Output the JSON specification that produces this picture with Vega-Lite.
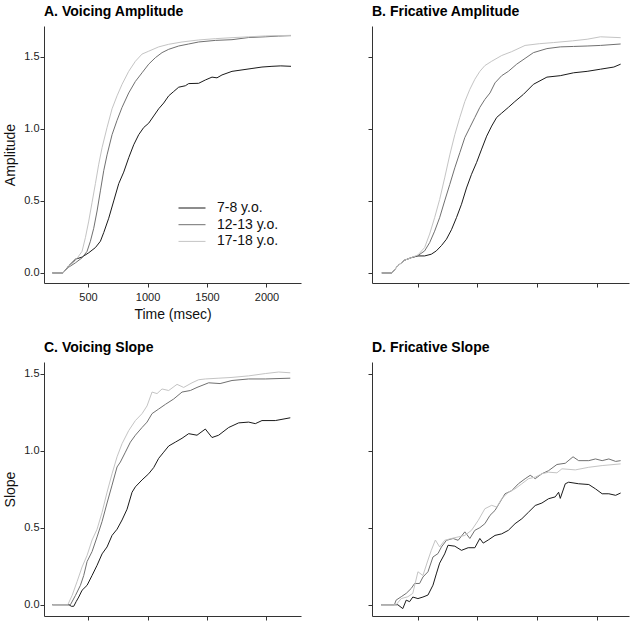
{
"$schema": "https://vega.github.io/schema/vega-lite/v6.json",
"padding": {"left": 3, "top": 5, "right": 5, "bottom": 5},
"config": {
  "font": "Liberation Sans",
  "view": {"stroke": null},
  "axis": {"grid": false, "domainColor": "#333", "tickColor": "#333", "labelColor": "#222", "labelFontSize": 11, "titleFontSize": 14, "titleFontWeight": "normal", "titleColor": "#111", "tickSize": 4, "domainWidth": 1, "tickWidth": 1},
  "title": {"fontSize": 14, "fontWeight": "bold", "anchor": "start", "frame": "group", "offset": 7, "color": "#000"},
  "line": {"strokeWidth": 1}
},
"data": {"values": [
{"p":"A","g":"7-8 y.o.","t":200,"v":0},{"p":"A","g":"7-8 y.o.","t":290,"v":0},{"p":"A","g":"7-8 y.o.","t":338,"v":0.049},{"p":"A","g":"7-8 y.o.","t":394,"v":0.095},{"p":"A","g":"7-8 y.o.","t":450,"v":0.11},{"p":"A","g":"7-8 y.o.","t":506,"v":0.14},{"p":"A","g":"7-8 y.o.","t":562,"v":0.176},{"p":"A","g":"7-8 y.o.","t":604,"v":0.22},{"p":"A","g":"7-8 y.o.","t":632,"v":0.28},{"p":"A","g":"7-8 y.o.","t":674,"v":0.38},{"p":"A","g":"7-8 y.o.","t":716,"v":0.5},{"p":"A","g":"7-8 y.o.","t":758,"v":0.62},{"p":"A","g":"7-8 y.o.","t":800,"v":0.7},{"p":"A","g":"7-8 y.o.","t":842,"v":0.8},{"p":"A","g":"7-8 y.o.","t":884,"v":0.89},{"p":"A","g":"7-8 y.o.","t":926,"v":0.96},{"p":"A","g":"7-8 y.o.","t":968,"v":1.01},{"p":"A","g":"7-8 y.o.","t":1010,"v":1.04},{"p":"A","g":"7-8 y.o.","t":1052,"v":1.09},{"p":"A","g":"7-8 y.o.","t":1094,"v":1.14},{"p":"A","g":"7-8 y.o.","t":1136,"v":1.18},{"p":"A","g":"7-8 y.o.","t":1178,"v":1.23},{"p":"A","g":"7-8 y.o.","t":1220,"v":1.26},{"p":"A","g":"7-8 y.o.","t":1262,"v":1.29},{"p":"A","g":"7-8 y.o.","t":1318,"v":1.3},{"p":"A","g":"7-8 y.o.","t":1346,"v":1.315},{"p":"A","g":"7-8 y.o.","t":1430,"v":1.317},{"p":"A","g":"7-8 y.o.","t":1486,"v":1.34},{"p":"A","g":"7-8 y.o.","t":1542,"v":1.36},{"p":"A","g":"7-8 y.o.","t":1584,"v":1.355},{"p":"A","g":"7-8 y.o.","t":1626,"v":1.375},{"p":"A","g":"7-8 y.o.","t":1710,"v":1.4},{"p":"A","g":"7-8 y.o.","t":1794,"v":1.41},{"p":"A","g":"7-8 y.o.","t":1878,"v":1.42},{"p":"A","g":"7-8 y.o.","t":1962,"v":1.43},{"p":"A","g":"7-8 y.o.","t":2046,"v":1.435},{"p":"A","g":"7-8 y.o.","t":2120,"v":1.438},{"p":"A","g":"7-8 y.o.","t":2206,"v":1.435},
{"p":"A","g":"12-13 y.o.","t":200,"v":0},{"p":"A","g":"12-13 y.o.","t":290,"v":0},{"p":"A","g":"12-13 y.o.","t":338,"v":0.04},{"p":"A","g":"12-13 y.o.","t":394,"v":0.07},{"p":"A","g":"12-13 y.o.","t":450,"v":0.105},{"p":"A","g":"12-13 y.o.","t":492,"v":0.15},{"p":"A","g":"12-13 y.o.","t":520,"v":0.22},{"p":"A","g":"12-13 y.o.","t":548,"v":0.31},{"p":"A","g":"12-13 y.o.","t":576,"v":0.43},{"p":"A","g":"12-13 y.o.","t":604,"v":0.57},{"p":"A","g":"12-13 y.o.","t":632,"v":0.71},{"p":"A","g":"12-13 y.o.","t":660,"v":0.82},{"p":"A","g":"12-13 y.o.","t":702,"v":0.96},{"p":"A","g":"12-13 y.o.","t":744,"v":1.06},{"p":"A","g":"12-13 y.o.","t":786,"v":1.15},{"p":"A","g":"12-13 y.o.","t":842,"v":1.25},{"p":"A","g":"12-13 y.o.","t":898,"v":1.33},{"p":"A","g":"12-13 y.o.","t":954,"v":1.39},{"p":"A","g":"12-13 y.o.","t":1010,"v":1.45},{"p":"A","g":"12-13 y.o.","t":1066,"v":1.495},{"p":"A","g":"12-13 y.o.","t":1122,"v":1.53},{"p":"A","g":"12-13 y.o.","t":1178,"v":1.553},{"p":"A","g":"12-13 y.o.","t":1262,"v":1.576},{"p":"A","g":"12-13 y.o.","t":1346,"v":1.59},{"p":"A","g":"12-13 y.o.","t":1430,"v":1.604},{"p":"A","g":"12-13 y.o.","t":1570,"v":1.615},{"p":"A","g":"12-13 y.o.","t":1710,"v":1.62},{"p":"A","g":"12-13 y.o.","t":1850,"v":1.635},{"p":"A","g":"12-13 y.o.","t":1990,"v":1.64},{"p":"A","g":"12-13 y.o.","t":2100,"v":1.645},{"p":"A","g":"12-13 y.o.","t":2206,"v":1.648},
{"p":"A","g":"17-18 y.o.","t":200,"v":0},{"p":"A","g":"17-18 y.o.","t":290,"v":0},{"p":"A","g":"17-18 y.o.","t":338,"v":0.045},{"p":"A","g":"17-18 y.o.","t":394,"v":0.085},{"p":"A","g":"17-18 y.o.","t":450,"v":0.15},{"p":"A","g":"17-18 y.o.","t":478,"v":0.245},{"p":"A","g":"17-18 y.o.","t":506,"v":0.36},{"p":"A","g":"17-18 y.o.","t":534,"v":0.49},{"p":"A","g":"17-18 y.o.","t":562,"v":0.62},{"p":"A","g":"17-18 y.o.","t":590,"v":0.755},{"p":"A","g":"17-18 y.o.","t":618,"v":0.87},{"p":"A","g":"17-18 y.o.","t":660,"v":1.01},{"p":"A","g":"17-18 y.o.","t":702,"v":1.14},{"p":"A","g":"17-18 y.o.","t":744,"v":1.23},{"p":"A","g":"17-18 y.o.","t":786,"v":1.31},{"p":"A","g":"17-18 y.o.","t":842,"v":1.4},{"p":"A","g":"17-18 y.o.","t":898,"v":1.47},{"p":"A","g":"17-18 y.o.","t":954,"v":1.52},{"p":"A","g":"17-18 y.o.","t":1010,"v":1.54},{"p":"A","g":"17-18 y.o.","t":1094,"v":1.57},{"p":"A","g":"17-18 y.o.","t":1178,"v":1.588},{"p":"A","g":"17-18 y.o.","t":1290,"v":1.604},{"p":"A","g":"17-18 y.o.","t":1430,"v":1.618},{"p":"A","g":"17-18 y.o.","t":1570,"v":1.627},{"p":"A","g":"17-18 y.o.","t":1710,"v":1.634},{"p":"A","g":"17-18 y.o.","t":1850,"v":1.64},{"p":"A","g":"17-18 y.o.","t":1990,"v":1.646},{"p":"A","g":"17-18 y.o.","t":2206,"v":1.65},
{"p":"B","g":"7-8 y.o.","t":200,"v":0},{"p":"B","g":"7-8 y.o.","t":285,"v":0},{"p":"B","g":"7-8 y.o.","t":334,"v":0.049},{"p":"B","g":"7-8 y.o.","t":390,"v":0.088},{"p":"B","g":"7-8 y.o.","t":447,"v":0.106},{"p":"B","g":"7-8 y.o.","t":503,"v":0.118},{"p":"B","g":"7-8 y.o.","t":559,"v":0.118},{"p":"B","g":"7-8 y.o.","t":615,"v":0.13},{"p":"B","g":"7-8 y.o.","t":657,"v":0.153},{"p":"B","g":"7-8 y.o.","t":700,"v":0.19},{"p":"B","g":"7-8 y.o.","t":742,"v":0.234},{"p":"B","g":"7-8 y.o.","t":784,"v":0.3},{"p":"B","g":"7-8 y.o.","t":826,"v":0.384},{"p":"B","g":"7-8 y.o.","t":868,"v":0.477},{"p":"B","g":"7-8 y.o.","t":910,"v":0.59},{"p":"B","g":"7-8 y.o.","t":952,"v":0.685},{"p":"B","g":"7-8 y.o.","t":994,"v":0.766},{"p":"B","g":"7-8 y.o.","t":1037,"v":0.86},{"p":"B","g":"7-8 y.o.","t":1079,"v":0.95},{"p":"B","g":"7-8 y.o.","t":1121,"v":1.02},{"p":"B","g":"7-8 y.o.","t":1163,"v":1.08},{"p":"B","g":"7-8 y.o.","t":1205,"v":1.11},{"p":"B","g":"7-8 y.o.","t":1261,"v":1.15},{"p":"B","g":"7-8 y.o.","t":1315,"v":1.19},{"p":"B","g":"7-8 y.o.","t":1387,"v":1.24},{"p":"B","g":"7-8 y.o.","t":1471,"v":1.31},{"p":"B","g":"7-8 y.o.","t":1584,"v":1.36},{"p":"B","g":"7-8 y.o.","t":1696,"v":1.37},{"p":"B","g":"7-8 y.o.","t":1808,"v":1.39},{"p":"B","g":"7-8 y.o.","t":1921,"v":1.4},{"p":"B","g":"7-8 y.o.","t":2033,"v":1.415},{"p":"B","g":"7-8 y.o.","t":2145,"v":1.43},{"p":"B","g":"7-8 y.o.","t":2202,"v":1.45},
{"p":"B","g":"12-13 y.o.","t":200,"v":0},{"p":"B","g":"12-13 y.o.","t":285,"v":0},{"p":"B","g":"12-13 y.o.","t":334,"v":0.049},{"p":"B","g":"12-13 y.o.","t":390,"v":0.088},{"p":"B","g":"12-13 y.o.","t":447,"v":0.106},{"p":"B","g":"12-13 y.o.","t":503,"v":0.12},{"p":"B","g":"12-13 y.o.","t":559,"v":0.153},{"p":"B","g":"12-13 y.o.","t":601,"v":0.21},{"p":"B","g":"12-13 y.o.","t":643,"v":0.29},{"p":"B","g":"12-13 y.o.","t":685,"v":0.384},{"p":"B","g":"12-13 y.o.","t":727,"v":0.5},{"p":"B","g":"12-13 y.o.","t":770,"v":0.615},{"p":"B","g":"12-13 y.o.","t":812,"v":0.73},{"p":"B","g":"12-13 y.o.","t":854,"v":0.835},{"p":"B","g":"12-13 y.o.","t":896,"v":0.94},{"p":"B","g":"12-13 y.o.","t":938,"v":1.01},{"p":"B","g":"12-13 y.o.","t":980,"v":1.08},{"p":"B","g":"12-13 y.o.","t":1022,"v":1.15},{"p":"B","g":"12-13 y.o.","t":1064,"v":1.205},{"p":"B","g":"12-13 y.o.","t":1107,"v":1.25},{"p":"B","g":"12-13 y.o.","t":1149,"v":1.32},{"p":"B","g":"12-13 y.o.","t":1205,"v":1.37},{"p":"B","g":"12-13 y.o.","t":1261,"v":1.4},{"p":"B","g":"12-13 y.o.","t":1331,"v":1.45},{"p":"B","g":"12-13 y.o.","t":1401,"v":1.49},{"p":"B","g":"12-13 y.o.","t":1471,"v":1.53},{"p":"B","g":"12-13 y.o.","t":1584,"v":1.558},{"p":"B","g":"12-13 y.o.","t":1696,"v":1.57},{"p":"B","g":"12-13 y.o.","t":1808,"v":1.573},{"p":"B","g":"12-13 y.o.","t":1921,"v":1.576},{"p":"B","g":"12-13 y.o.","t":2033,"v":1.58},{"p":"B","g":"12-13 y.o.","t":2202,"v":1.59},
{"p":"B","g":"17-18 y.o.","t":200,"v":0},{"p":"B","g":"17-18 y.o.","t":285,"v":0},{"p":"B","g":"17-18 y.o.","t":334,"v":0.049},{"p":"B","g":"17-18 y.o.","t":390,"v":0.088},{"p":"B","g":"17-18 y.o.","t":447,"v":0.106},{"p":"B","g":"17-18 y.o.","t":503,"v":0.125},{"p":"B","g":"17-18 y.o.","t":559,"v":0.176},{"p":"B","g":"17-18 y.o.","t":601,"v":0.27},{"p":"B","g":"17-18 y.o.","t":643,"v":0.384},{"p":"B","g":"17-18 y.o.","t":685,"v":0.51},{"p":"B","g":"17-18 y.o.","t":727,"v":0.66},{"p":"B","g":"17-18 y.o.","t":770,"v":0.82},{"p":"B","g":"17-18 y.o.","t":812,"v":0.96},{"p":"B","g":"17-18 y.o.","t":854,"v":1.08},{"p":"B","g":"17-18 y.o.","t":896,"v":1.19},{"p":"B","g":"17-18 y.o.","t":938,"v":1.275},{"p":"B","g":"17-18 y.o.","t":980,"v":1.345},{"p":"B","g":"17-18 y.o.","t":1022,"v":1.4},{"p":"B","g":"17-18 y.o.","t":1064,"v":1.44},{"p":"B","g":"17-18 y.o.","t":1121,"v":1.47},{"p":"B","g":"17-18 y.o.","t":1205,"v":1.51},{"p":"B","g":"17-18 y.o.","t":1289,"v":1.537},{"p":"B","g":"17-18 y.o.","t":1401,"v":1.58},{"p":"B","g":"17-18 y.o.","t":1520,"v":1.592},{"p":"B","g":"17-18 y.o.","t":1640,"v":1.6},{"p":"B","g":"17-18 y.o.","t":1800,"v":1.612},{"p":"B","g":"17-18 y.o.","t":1921,"v":1.623},{"p":"B","g":"17-18 y.o.","t":2033,"v":1.64},{"p":"B","g":"17-18 y.o.","t":2202,"v":1.634},
{"p":"C","g":"7-8 y.o.","t":200,"v":0},{"p":"C","g":"7-8 y.o.","t":340,"v":0},{"p":"C","g":"7-8 y.o.","t":360,"v":-0.01},{"p":"C","g":"7-8 y.o.","t":380,"v":-0.01},{"p":"C","g":"7-8 y.o.","t":400,"v":0.02},{"p":"C","g":"7-8 y.o.","t":422,"v":0.05},{"p":"C","g":"7-8 y.o.","t":450,"v":0.094},{"p":"C","g":"7-8 y.o.","t":492,"v":0.126},{"p":"C","g":"7-8 y.o.","t":534,"v":0.19},{"p":"C","g":"7-8 y.o.","t":576,"v":0.256},{"p":"C","g":"7-8 y.o.","t":618,"v":0.33},{"p":"C","g":"7-8 y.o.","t":660,"v":0.375},{"p":"C","g":"7-8 y.o.","t":702,"v":0.45},{"p":"C","g":"7-8 y.o.","t":744,"v":0.49},{"p":"C","g":"7-8 y.o.","t":786,"v":0.55},{"p":"C","g":"7-8 y.o.","t":828,"v":0.62},{"p":"C","g":"7-8 y.o.","t":870,"v":0.73},{"p":"C","g":"7-8 y.o.","t":898,"v":0.765},{"p":"C","g":"7-8 y.o.","t":954,"v":0.81},{"p":"C","g":"7-8 y.o.","t":1010,"v":0.85},{"p":"C","g":"7-8 y.o.","t":1052,"v":0.89},{"p":"C","g":"7-8 y.o.","t":1094,"v":0.95},{"p":"C","g":"7-8 y.o.","t":1136,"v":0.99},{"p":"C","g":"7-8 y.o.","t":1178,"v":1.03},{"p":"C","g":"7-8 y.o.","t":1234,"v":1.055},{"p":"C","g":"7-8 y.o.","t":1290,"v":1.08},{"p":"C","g":"7-8 y.o.","t":1346,"v":1.11},{"p":"C","g":"7-8 y.o.","t":1416,"v":1.1},{"p":"C","g":"7-8 y.o.","t":1486,"v":1.14},{"p":"C","g":"7-8 y.o.","t":1542,"v":1.085},{"p":"C","g":"7-8 y.o.","t":1598,"v":1.1},{"p":"C","g":"7-8 y.o.","t":1682,"v":1.15},{"p":"C","g":"7-8 y.o.","t":1766,"v":1.18},{"p":"C","g":"7-8 y.o.","t":1850,"v":1.185},{"p":"C","g":"7-8 y.o.","t":1906,"v":1.175},{"p":"C","g":"7-8 y.o.","t":1962,"v":1.195},{"p":"C","g":"7-8 y.o.","t":2074,"v":1.195},{"p":"C","g":"7-8 y.o.","t":2200,"v":1.213},
{"p":"C","g":"12-13 y.o.","t":200,"v":0},{"p":"C","g":"12-13 y.o.","t":340,"v":0},{"p":"C","g":"12-13 y.o.","t":352,"v":0},{"p":"C","g":"12-13 y.o.","t":394,"v":0.06},{"p":"C","g":"12-13 y.o.","t":436,"v":0.126},{"p":"C","g":"12-13 y.o.","t":464,"v":0.19},{"p":"C","g":"12-13 y.o.","t":492,"v":0.28},{"p":"C","g":"12-13 y.o.","t":534,"v":0.345},{"p":"C","g":"12-13 y.o.","t":576,"v":0.44},{"p":"C","g":"12-13 y.o.","t":618,"v":0.54},{"p":"C","g":"12-13 y.o.","t":660,"v":0.66},{"p":"C","g":"12-13 y.o.","t":702,"v":0.776},{"p":"C","g":"12-13 y.o.","t":744,"v":0.894},{"p":"C","g":"12-13 y.o.","t":772,"v":0.926},{"p":"C","g":"12-13 y.o.","t":814,"v":0.99},{"p":"C","g":"12-13 y.o.","t":856,"v":1.055},{"p":"C","g":"12-13 y.o.","t":898,"v":1.1},{"p":"C","g":"12-13 y.o.","t":954,"v":1.15},{"p":"C","g":"12-13 y.o.","t":996,"v":1.185},{"p":"C","g":"12-13 y.o.","t":1038,"v":1.24},{"p":"C","g":"12-13 y.o.","t":1094,"v":1.27},{"p":"C","g":"12-13 y.o.","t":1150,"v":1.3},{"p":"C","g":"12-13 y.o.","t":1220,"v":1.335},{"p":"C","g":"12-13 y.o.","t":1290,"v":1.38},{"p":"C","g":"12-13 y.o.","t":1360,"v":1.39},{"p":"C","g":"12-13 y.o.","t":1416,"v":1.41},{"p":"C","g":"12-13 y.o.","t":1514,"v":1.44},{"p":"C","g":"12-13 y.o.","t":1610,"v":1.435},{"p":"C","g":"12-13 y.o.","t":1710,"v":1.455},{"p":"C","g":"12-13 y.o.","t":1850,"v":1.465},{"p":"C","g":"12-13 y.o.","t":1990,"v":1.465},{"p":"C","g":"12-13 y.o.","t":2200,"v":1.47},
{"p":"C","g":"17-18 y.o.","t":200,"v":0},{"p":"C","g":"17-18 y.o.","t":330,"v":0},{"p":"C","g":"17-18 y.o.","t":366,"v":0.06},{"p":"C","g":"17-18 y.o.","t":408,"v":0.15},{"p":"C","g":"17-18 y.o.","t":450,"v":0.245},{"p":"C","g":"17-18 y.o.","t":492,"v":0.32},{"p":"C","g":"17-18 y.o.","t":534,"v":0.42},{"p":"C","g":"17-18 y.o.","t":576,"v":0.49},{"p":"C","g":"17-18 y.o.","t":618,"v":0.6},{"p":"C","g":"17-18 y.o.","t":660,"v":0.73},{"p":"C","g":"17-18 y.o.","t":702,"v":0.85},{"p":"C","g":"17-18 y.o.","t":744,"v":0.96},{"p":"C","g":"17-18 y.o.","t":786,"v":1.045},{"p":"C","g":"17-18 y.o.","t":842,"v":1.13},{"p":"C","g":"17-18 y.o.","t":898,"v":1.195},{"p":"C","g":"17-18 y.o.","t":954,"v":1.24},{"p":"C","g":"17-18 y.o.","t":996,"v":1.29},{"p":"C","g":"17-18 y.o.","t":1038,"v":1.38},{"p":"C","g":"17-18 y.o.","t":1080,"v":1.37},{"p":"C","g":"17-18 y.o.","t":1122,"v":1.4},{"p":"C","g":"17-18 y.o.","t":1178,"v":1.39},{"p":"C","g":"17-18 y.o.","t":1248,"v":1.43},{"p":"C","g":"17-18 y.o.","t":1304,"v":1.41},{"p":"C","g":"17-18 y.o.","t":1374,"v":1.44},{"p":"C","g":"17-18 y.o.","t":1430,"v":1.46},{"p":"C","g":"17-18 y.o.","t":1486,"v":1.465},{"p":"C","g":"17-18 y.o.","t":1600,"v":1.47},{"p":"C","g":"17-18 y.o.","t":1710,"v":1.475},{"p":"C","g":"17-18 y.o.","t":1850,"v":1.485},{"p":"C","g":"17-18 y.o.","t":1990,"v":1.5},{"p":"C","g":"17-18 y.o.","t":2102,"v":1.51},{"p":"C","g":"17-18 y.o.","t":2200,"v":1.505},
{"p":"D","g":"7-8 y.o.","t":194,"v":0},{"p":"D","g":"7-8 y.o.","t":306,"v":0},{"p":"D","g":"7-8 y.o.","t":334,"v":0},{"p":"D","g":"7-8 y.o.","t":376,"v":-0.025},{"p":"D","g":"7-8 y.o.","t":405,"v":0.03},{"p":"D","g":"7-8 y.o.","t":433,"v":0.02},{"p":"D","g":"7-8 y.o.","t":460,"v":0.05},{"p":"D","g":"7-8 y.o.","t":503,"v":0.04},{"p":"D","g":"7-8 y.o.","t":545,"v":0.05},{"p":"D","g":"7-8 y.o.","t":587,"v":0.063},{"p":"D","g":"7-8 y.o.","t":629,"v":0.127},{"p":"D","g":"7-8 y.o.","t":657,"v":0.2},{"p":"D","g":"7-8 y.o.","t":685,"v":0.27},{"p":"D","g":"7-8 y.o.","t":727,"v":0.33},{"p":"D","g":"7-8 y.o.","t":755,"v":0.386},{"p":"D","g":"7-8 y.o.","t":812,"v":0.38},{"p":"D","g":"7-8 y.o.","t":868,"v":0.353},{"p":"D","g":"7-8 y.o.","t":924,"v":0.37},{"p":"D","g":"7-8 y.o.","t":980,"v":0.37},{"p":"D","g":"7-8 y.o.","t":1022,"v":0.43},{"p":"D","g":"7-8 y.o.","t":1050,"v":0.4},{"p":"D","g":"7-8 y.o.","t":1092,"v":0.42},{"p":"D","g":"7-8 y.o.","t":1149,"v":0.45},{"p":"D","g":"7-8 y.o.","t":1205,"v":0.46},{"p":"D","g":"7-8 y.o.","t":1261,"v":0.483},{"p":"D","g":"7-8 y.o.","t":1317,"v":0.526},{"p":"D","g":"7-8 y.o.","t":1374,"v":0.558},{"p":"D","g":"7-8 y.o.","t":1429,"v":0.6},{"p":"D","g":"7-8 y.o.","t":1486,"v":0.644},{"p":"D","g":"7-8 y.o.","t":1542,"v":0.66},{"p":"D","g":"7-8 y.o.","t":1598,"v":0.688},{"p":"D","g":"7-8 y.o.","t":1654,"v":0.7},{"p":"D","g":"7-8 y.o.","t":1682,"v":0.73},{"p":"D","g":"7-8 y.o.","t":1696,"v":0.69},{"p":"D","g":"7-8 y.o.","t":1738,"v":0.785},{"p":"D","g":"7-8 y.o.","t":1766,"v":0.795},{"p":"D","g":"7-8 y.o.","t":1850,"v":0.785},{"p":"D","g":"7-8 y.o.","t":1935,"v":0.78},{"p":"D","g":"7-8 y.o.","t":1991,"v":0.752},{"p":"D","g":"7-8 y.o.","t":2047,"v":0.72},{"p":"D","g":"7-8 y.o.","t":2103,"v":0.72},{"p":"D","g":"7-8 y.o.","t":2160,"v":0.71},{"p":"D","g":"7-8 y.o.","t":2202,"v":0.725},
{"p":"D","g":"12-13 y.o.","t":194,"v":0},{"p":"D","g":"12-13 y.o.","t":306,"v":0},{"p":"D","g":"12-13 y.o.","t":320,"v":0.03},{"p":"D","g":"12-13 y.o.","t":363,"v":0.052},{"p":"D","g":"12-13 y.o.","t":405,"v":0.074},{"p":"D","g":"12-13 y.o.","t":447,"v":0.106},{"p":"D","g":"12-13 y.o.","t":475,"v":0.138},{"p":"D","g":"12-13 y.o.","t":517,"v":0.138},{"p":"D","g":"12-13 y.o.","t":545,"v":0.18},{"p":"D","g":"12-13 y.o.","t":587,"v":0.214},{"p":"D","g":"12-13 y.o.","t":629,"v":0.31},{"p":"D","g":"12-13 y.o.","t":671,"v":0.332},{"p":"D","g":"12-13 y.o.","t":700,"v":0.375},{"p":"D","g":"12-13 y.o.","t":742,"v":0.418},{"p":"D","g":"12-13 y.o.","t":798,"v":0.43},{"p":"D","g":"12-13 y.o.","t":840,"v":0.418},{"p":"D","g":"12-13 y.o.","t":896,"v":0.473},{"p":"D","g":"12-13 y.o.","t":938,"v":0.43},{"p":"D","g":"12-13 y.o.","t":980,"v":0.483},{"p":"D","g":"12-13 y.o.","t":1022,"v":0.5},{"p":"D","g":"12-13 y.o.","t":1064,"v":0.526},{"p":"D","g":"12-13 y.o.","t":1107,"v":0.58},{"p":"D","g":"12-13 y.o.","t":1149,"v":0.612},{"p":"D","g":"12-13 y.o.","t":1191,"v":0.666},{"p":"D","g":"12-13 y.o.","t":1233,"v":0.72},{"p":"D","g":"12-13 y.o.","t":1289,"v":0.74},{"p":"D","g":"12-13 y.o.","t":1345,"v":0.785},{"p":"D","g":"12-13 y.o.","t":1402,"v":0.818},{"p":"D","g":"12-13 y.o.","t":1444,"v":0.84},{"p":"D","g":"12-13 y.o.","t":1486,"v":0.818},{"p":"D","g":"12-13 y.o.","t":1542,"v":0.85},{"p":"D","g":"12-13 y.o.","t":1598,"v":0.87},{"p":"D","g":"12-13 y.o.","t":1668,"v":0.91},{"p":"D","g":"12-13 y.o.","t":1738,"v":0.918},{"p":"D","g":"12-13 y.o.","t":1803,"v":0.96},{"p":"D","g":"12-13 y.o.","t":1850,"v":0.935},{"p":"D","g":"12-13 y.o.","t":1935,"v":0.935},{"p":"D","g":"12-13 y.o.","t":1991,"v":0.946},{"p":"D","g":"12-13 y.o.","t":2047,"v":0.935},{"p":"D","g":"12-13 y.o.","t":2103,"v":0.946},{"p":"D","g":"12-13 y.o.","t":2160,"v":0.93},{"p":"D","g":"12-13 y.o.","t":2202,"v":0.935},
{"p":"D","g":"17-18 y.o.","t":194,"v":0},{"p":"D","g":"17-18 y.o.","t":320,"v":0},{"p":"D","g":"17-18 y.o.","t":363,"v":0.04},{"p":"D","g":"17-18 y.o.","t":419,"v":0.052},{"p":"D","g":"17-18 y.o.","t":460,"v":0.074},{"p":"D","g":"17-18 y.o.","t":503,"v":0.214},{"p":"D","g":"17-18 y.o.","t":545,"v":0.19},{"p":"D","g":"17-18 y.o.","t":587,"v":0.29},{"p":"D","g":"17-18 y.o.","t":615,"v":0.353},{"p":"D","g":"17-18 y.o.","t":649,"v":0.42},{"p":"D","g":"17-18 y.o.","t":685,"v":0.375},{"p":"D","g":"17-18 y.o.","t":727,"v":0.418},{"p":"D","g":"17-18 y.o.","t":784,"v":0.43},{"p":"D","g":"17-18 y.o.","t":840,"v":0.44},{"p":"D","g":"17-18 y.o.","t":896,"v":0.45},{"p":"D","g":"17-18 y.o.","t":952,"v":0.483},{"p":"D","g":"17-18 y.o.","t":1008,"v":0.547},{"p":"D","g":"17-18 y.o.","t":1064,"v":0.623},{"p":"D","g":"17-18 y.o.","t":1121,"v":0.645},{"p":"D","g":"17-18 y.o.","t":1163,"v":0.634},{"p":"D","g":"17-18 y.o.","t":1205,"v":0.688},{"p":"D","g":"17-18 y.o.","t":1261,"v":0.73},{"p":"D","g":"17-18 y.o.","t":1317,"v":0.752},{"p":"D","g":"17-18 y.o.","t":1374,"v":0.785},{"p":"D","g":"17-18 y.o.","t":1430,"v":0.818},{"p":"D","g":"17-18 y.o.","t":1486,"v":0.828},{"p":"D","g":"17-18 y.o.","t":1542,"v":0.85},{"p":"D","g":"17-18 y.o.","t":1598,"v":0.86},{"p":"D","g":"17-18 y.o.","t":1668,"v":0.856},{"p":"D","g":"17-18 y.o.","t":1710,"v":0.882},{"p":"D","g":"17-18 y.o.","t":1822,"v":0.875},{"p":"D","g":"17-18 y.o.","t":1935,"v":0.892},{"p":"D","g":"17-18 y.o.","t":2047,"v":0.903},{"p":"D","g":"17-18 y.o.","t":2202,"v":0.914}
]},
"columns": 2,
"spacing": {"column": 71, "row": 79},
"bounds": "flush",
"concat": [
 {"title": "A. Voicing Amplitude", "width": 257, "height": 257,
  "transform": [{"filter": "datum.p === 'A'"}],
  "mark": {"type": "line"},
  "encoding": {
   "x": {"field": "t", "type": "quantitative", "scale": {"domain": [130, 2290], "nice": false, "zero": false}, "axis": {"values": [500, 1000, 1500, 2000], "format": "d", "title": "Time (msec)", "labelPadding": 4, "titlePadding": 5}},
   "y": {"field": "v", "type": "quantitative", "scale": {"domain": [-0.07, 1.715], "nice": false}, "axis": {"values": [0, 0.5, 1, 1.5], "format": ".1f", "title": "Amplitude", "labelPadding": 1, "titlePadding": 6}},
   "color": {"field": "g", "type": "nominal", "scale": {"domain": ["7-8 y.o.", "12-13 y.o.", "17-18 y.o."], "range": ["#1a1a1a", "#707070", "#c4c4c4"]},
     "legend": {"title": null, "orient": "none", "legendX": 141, "legendY": 175, "symbolType": "M-2.7,0L2.7,0", "symbolSize": 100, "symbolStrokeWidth": 1, "labelFontSize": 14, "labelColor": "#111", "labelOffset": 18, "rowPadding": 2.7, "padding": 0}}
  }},
 {"title": "B. Fricative Amplitude", "width": 257, "height": 257,
  "transform": [{"filter": "datum.p === 'B'"}],
  "mark": {"type": "line"},
  "encoding": {
   "x": {"field": "t", "type": "quantitative", "scale": {"domain": [118, 2272], "nice": false, "zero": false}, "axis": {"values": [500, 1000, 1500, 2000], "title": null, "labels": false}},
   "y": {"field": "v", "type": "quantitative", "scale": {"domain": [-0.07, 1.715], "nice": false}, "axis": {"values": [0, 0.5, 1, 1.5], "title": null, "labels": false}},
   "color": {"field": "g", "type": "nominal", "scale": {"domain": ["7-8 y.o.", "12-13 y.o.", "17-18 y.o."], "range": ["#1a1a1a", "#707070", "#c4c4c4"]}, "legend": null}
  }},
 {"title": "C. Voicing Slope", "width": 257, "height": 254,
  "transform": [{"filter": "datum.p === 'C'"}],
  "mark": {"type": "line"},
  "encoding": {
   "x": {"field": "t", "type": "quantitative", "scale": {"domain": [130, 2290], "nice": false, "zero": false}, "axis": {"values": [500, 1000, 1500, 2000], "title": null, "labels": false}},
   "y": {"field": "v", "type": "quantitative", "scale": {"domain": [-0.073, 1.575], "nice": false}, "axis": {"values": [0, 0.5, 1, 1.5], "format": ".1f", "title": "Slope", "labelPadding": 1, "titlePadding": 6}},
   "color": {"field": "g", "type": "nominal", "scale": {"domain": ["7-8 y.o.", "12-13 y.o.", "17-18 y.o."], "range": ["#1a1a1a", "#707070", "#c4c4c4"]}, "legend": null}
  }},
 {"title": "D. Fricative Slope", "width": 257, "height": 254,
  "transform": [{"filter": "datum.p === 'D'"}],
  "mark": {"type": "line"},
  "encoding": {
   "x": {"field": "t", "type": "quantitative", "scale": {"domain": [118, 2272], "nice": false, "zero": false}, "axis": {"values": [500, 1000, 1500, 2000], "title": null, "labels": false}},
   "y": {"field": "v", "type": "quantitative", "scale": {"domain": [-0.073, 1.575], "nice": false}, "axis": {"values": [0, 0.5, 1, 1.5], "title": null, "labels": false}},
   "color": {"field": "g", "type": "nominal", "scale": {"domain": ["7-8 y.o.", "12-13 y.o.", "17-18 y.o."], "range": ["#1a1a1a", "#707070", "#c4c4c4"]}, "legend": null}
  }}
],
"resolve": {"scale": {"x": "independent", "y": "independent"}}
}
